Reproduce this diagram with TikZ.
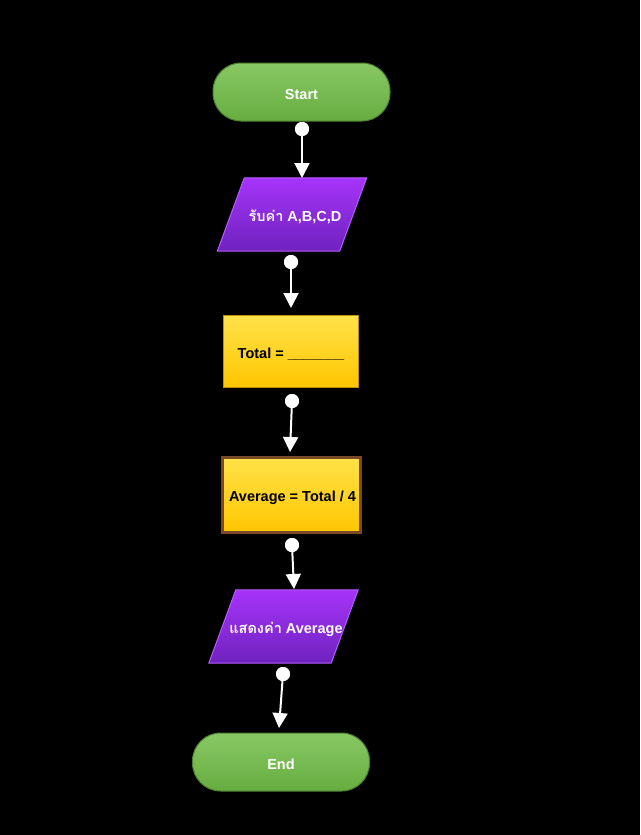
\documentclass[tikz,border=0pt]{standalone}
\usepackage{fontspec}
\setmainfont{Liberation Sans}
\newfontfamily\thaifont[Script=Thai]{Loma}
\usetikzlibrary{arrows.meta,backgrounds}
\definecolor{gtop}{HTML}{88C864}
\definecolor{gbot}{HTML}{66AD40}
\definecolor{gline}{HTML}{4F7F33}
\definecolor{ptop}{HTML}{A634FA}
\definecolor{pbot}{HTML}{6F22BE}
\definecolor{pline}{HTML}{B65CFF}
\definecolor{ytop}{HTML}{FFE24A}
\definecolor{ybot}{HTML}{FFC600}
\definecolor{yline}{HTML}{B8920A}
\definecolor{bline}{HTML}{7A4A28}
\begin{document}
\begin{tikzpicture}[x=1pt,y=-1pt,
  lbl/.style={font=\fontsize{14.5}{17}\selectfont\bfseries, text height=14pt, text depth=0pt},
  terminal/.style={lbl, draw=gline, line width=1pt, rounded corners=28pt,
    top color=gtop, bottom color=gbot, text=white,
    minimum width=177pt, minimum height=58pt, inner sep=0pt},
  iobox/.style={lbl, rectangle, text=white,
    minimum width=122pt, minimum height=73pt, inner sep=0pt},
  iofill/.style={draw=pline, line width=1pt, top color=ptop, bottom color=pbot},
  procbox/.style={lbl, rectangle, draw=yline, line width=1pt,
    top color=ytop, bottom color=ybot, text=black, inner sep=0pt},
  dot/.style={circle, fill=white, inner sep=0pt, minimum size=14pt},
  flow/.style={draw=white, line width=2pt, -{Triangle[width=15pt,length=15pt]}}
]
\begin{scope}[on background layer]
\fill[black] (0,0) rectangle (640,835);
\end{scope}
\useasboundingbox (0,0) rectangle (640,835);

\node[terminal] (start) at (301.5,92) {Start};
\node[iobox] (in) at (292,214.5) {\hspace{6pt}{\thaifont รับค่า} A,B,C,D};
\node[procbox, minimum width=135pt, minimum height=72pt] (total) at (291,351) {Total = \_\_\_\_\_\_\_};
\node[procbox, draw=bline, line width=3pt, minimum width=138pt, minimum height=75pt] (avg) at (291,494.5) {\hspace{3pt}Average = Total / 4};
\node[iobox] (out) at (283.5,626.5) {\hspace{5pt}{\thaifont แสดงค่า} Average};
\node[terminal] (end) at (281,762) {End};

\begin{scope}[on background layer]
\foreach \p in {in,out}
  \path[iofill] ([xshift=-13.5pt]\p.south west) -- ([xshift=-13.5pt]\p.south east)
     -- ([xshift=13.5pt]\p.north east) -- ([xshift=13.5pt]\p.north west) -- cycle;
\end{scope}

\node[dot] (d1) at (302,129) {};
\node[dot] (d2) at (291,262) {};
\node[dot] (d3) at (292,401) {};
\node[dot] (d4) at (292,545) {};
\node[dot] (d5) at (283,674) {};

\coordinate (a1) at (302,178);
\coordinate (a2) at (291,308);
\coordinate (a3) at (290,452);
\coordinate (a4) at (294,589);
\coordinate (a5) at (279,728);

\draw[flow] (d1.center) -- (a1);
\draw[flow] (d2.center) -- (a2);
\draw[flow] (d3.center) -- (a3);
\draw[flow] (d4.center) -- (a4);
\draw[flow] (d5.center) -- (a5);

\foreach \d in {d1,d2,d3,d4,d5} \node[dot] at (\d) {};
\end{tikzpicture}
\end{document}
